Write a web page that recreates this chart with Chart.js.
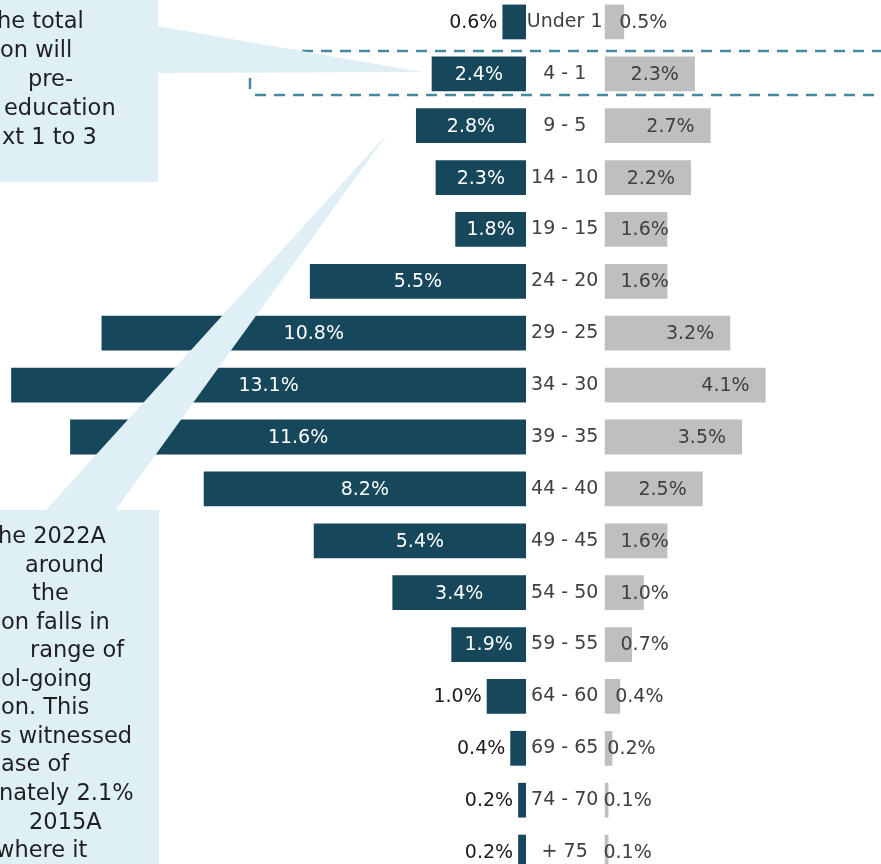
<!DOCTYPE html>
<html>
<head>
<meta charset="utf-8">
<script src="https://cdn.jsdelivr.net/npm/chart.js@4.4.1/dist/chart.umd.min.js"></script>
<style>
  html, body { margin: 0; padding: 0; background: #fff; overflow: hidden; }
  #wrap { position: relative; width: 881px; height: 864px; overflow: hidden; }
  #wrap canvas { position: absolute; }
  #leftChart { left: 0; top: -4px; }
  #rightChart { left: 526px; top: -4px; }
  #notes { left: 0; top: 0; pointer-events: none; }
</style>
</head>
<body>
<div id="wrap">
  <canvas id="leftChart" width="526" height="882"></canvas>
  <canvas id="rightChart" width="355" height="882"></canvas>
  <canvas id="notes" width="881" height="864"></canvas>
</div>
<script>
const ageGroups = ['Under 1', '4 - 1', '9 - 5', '14 - 10', '19 - 15', '24 - 20', '29 - 25', '34 - 30',
  '39 - 35', '44 - 40', '49 - 45', '54 - 50', '59 - 55', '64 - 60', '69 - 65', '74 - 70', '+ 75'];
const leftShare = [0.6, 2.4, 2.8, 2.3, 1.8, 5.5, 10.8, 13.1, 11.6, 8.2, 5.4, 3.4, 1.9, 1.0, 0.4, 0.2, 0.2];
const rightShare = [0.5, 2.3, 2.7, 2.2, 1.6, 1.6, 3.2, 4.1, 3.5, 2.5, 1.6, 1.0, 0.7, 0.4, 0.2, 0.1, 0.1];

// visible parts of the two callout texts (cut off by the left edge)
const topNoteLines = ['he total', 'on will', 'pre-', 'education', 'xt 1 to 3'];
const bottomNoteLines = ['he 2022A', 'around', 'the', 'on falls in', 'range of', 'ol-going',
  'on. This', 's witnessed', 'ase of', 'nately 2.1%', '2015A', 'where it'];

const PX_PER_PCT = 39.3;
const labelFont = '19px "DejaVu Sans"';

const barLabels = {
  id: 'barLabels',
  afterDatasetsDraw(chart, args, opts) {
    const ctx = chart.ctx;
    const values = chart.data.datasets[0].data;
    ctx.save();
    ctx.font = labelFont;
    ctx.textBaseline = 'middle';
    chart.getDatasetMeta(0).data.forEach((bar, i) => {
      const text = values[i].toFixed(1) + '%';
      const w = ctx.measureText(text).width;
      const start = Math.min(bar.x, bar.base);
      const end = Math.max(bar.x, bar.base);
      const y = bar.y + 1;
      if (opts.side === 'left') {
        if (end - start > w + 12) {
          ctx.fillStyle = '#ffffff';
          ctx.textAlign = 'center';
          ctx.fillText(text, (start + end) / 2, y);
        } else {
          ctx.fillStyle = '#1a1a1a';
          ctx.textAlign = 'right';
          ctx.fillText(text, start - 5, y);
        }
      } else {
        const x = Math.max(end - 16 - w, Math.min(start + 16, end - 5));
        ctx.fillStyle = '#404040';
        ctx.textAlign = 'left';
        ctx.fillText(text, x, y);
      }
    });
    ctx.restore();
  }
};

const baseOptions = (side, xScale, yScale) => ({
  indexAxis: 'y',
  responsive: false,
  animation: false,
  layout: { padding: 0 },
  plugins: {
    legend: { display: false },
    tooltip: { enabled: false },
    barLabels: { side: side }
  },
  scales: { x: xScale, y: yScale }
});

new Chart(document.getElementById('leftChart'), {
  type: 'bar',
  data: {
    labels: ageGroups,
    datasets: [{
      data: leftShare,
      backgroundColor: '#16475B',
      barPercentage: 0.67,
      categoryPercentage: 1
    }]
  },
  options: baseOptions('left',
    { display: false, reverse: true, min: 0, max: 526 / PX_PER_PCT },
    { display: false }),
  plugins: [barLabels]
});

new Chart(document.getElementById('rightChart'), {
  type: 'bar',
  data: {
    labels: ageGroups,
    datasets: [{
      data: rightShare,
      backgroundColor: '#BFBFBF',
      barPercentage: 0.67,
      categoryPercentage: 1
    }]
  },
  options: baseOptions('right',
    { display: false, min: 0, max: (881 - 604.5) / PX_PER_PCT },
    {
      grid: { display: false, drawTicks: false },
      border: { display: false },
      ticks: {
        color: '#404040',
        font: { family: 'DejaVu Sans', size: 19 },
        crossAlign: 'center',
        padding: 2,
        autoSkip: false
      },
      afterFit(scale) {
        scale.width = 78.5;
        scale.paddingTop = 0;
        scale.paddingBottom = 0;
      }
    }),
  plugins: [barLabels]
});

// callouts and dashed frame drawn over the charts
const ctx = document.getElementById('notes').getContext('2d');

const line = (x1, y1, x2, y2) => {
  ctx.beginPath();
  ctx.moveTo(x1, y1);
  ctx.lineTo(x2, y2);
  ctx.stroke();
};
const poly = (pts) => {
  ctx.beginPath();
  ctx.moveTo(pts[0][0], pts[0][1]);
  pts.slice(1).forEach(p => ctx.lineTo(p[0], p[1]));
  ctx.closePath();
  ctx.fill();
};

ctx.strokeStyle = '#468A9D';
ctx.lineWidth = 2.5;
ctx.setLineDash([11, 8]);
line(245, 51, 890, 51);
line(255, 95, 890, 95);
line(250, 89, 250, 45);
ctx.setLineDash([]);

ctx.fillStyle = '#DEEFF6';
ctx.fillRect(0, 0, 158, 182);
poly([[157, 26], [422, 72], [157, 73]]);
ctx.fillRect(0, 510, 159, 360);
poly([[45, 511], [388, 133], [115, 511]]);

const topNoteX = [-3, 0, 28, 4, 2];
const bottomNoteX = [-2, 25, 32, 1, 30, 1, 1, 0, 1, -1, 29, -4];
ctx.fillStyle = '#1f1f1f';
ctx.font = '22.5px "DejaVu Sans"';
ctx.textBaseline = 'alphabetic';
topNoteLines.forEach((t, i) => ctx.fillText(t, topNoteX[i], 27.5 + 29 * i));
bottomNoteLines.forEach((t, i) => ctx.fillText(t, bottomNoteX[i], 543 + 28.55 * i));
</script>
</body>
</html>
